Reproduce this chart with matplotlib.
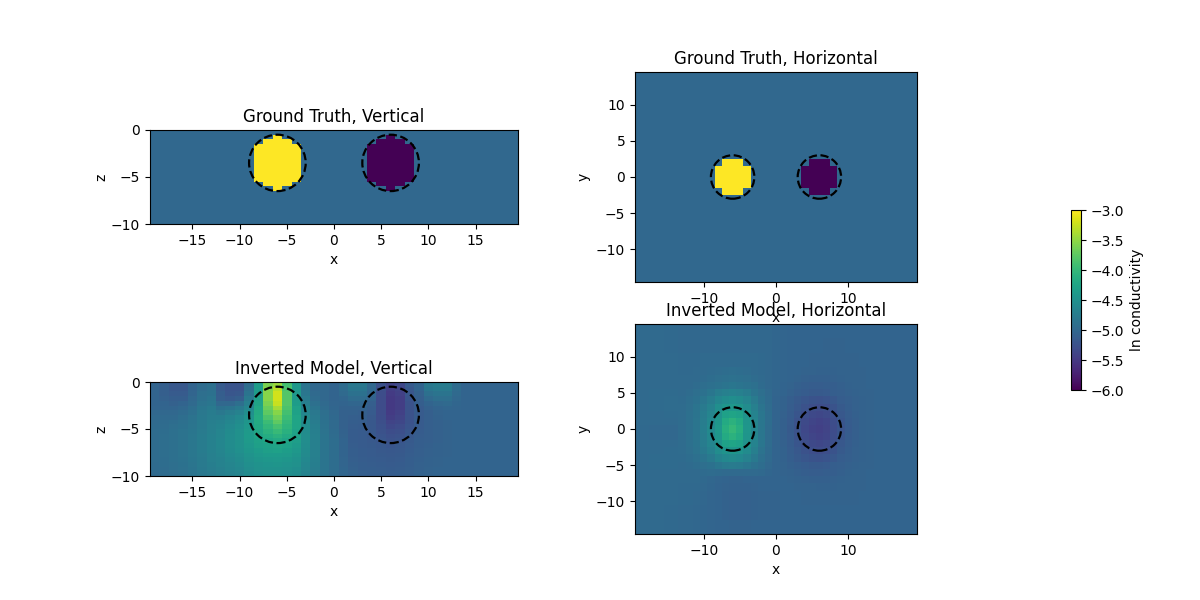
import matplotlib
matplotlib.use("Agg")
import numpy as np
import matplotlib.pyplot as plt
from matplotlib.patches import Circle
from matplotlib.cm import ScalarMappable
from matplotlib.colors import Normalize

VMIN, VMAX = -6.0, -3.0
CENTERS_X = [-6.0, 6.0]
DEPTH_CENTER = -3.5
RADIUS = 3.0

# grid edges
X_EDGES = list(np.arange(-19.5, 20.0, 1.0))
Z_EDGES = list(np.arange(0.0, -10.5, -0.5))
HX_EDGES = list(np.arange(-19.5, 20.0, 1.0))
HY_EDGES = list(np.arange(14.5, -15.0, -1.0))
CX_EDGES = [-19.5, -17.5, -15.5, -13.5] + list(np.arange(-12.5, 13.0, 1.0)) + [13.5, 15.5, 17.5, 19.5]
CY_EDGES = [14.5, 12.5, 10.5, 8.5] + list(np.arange(7.5, -8.0, -1.0)) + [-8.5, -10.5, -12.5, -14.5]

# ground truth: '.' background, 'Y' conductive, 'D' resistive
LEVELS = {".": -5.0, "Y": -3.0, "D": -6.0}
TRUTH_VERTICAL = [
    "." * 39,
    "." * 13 + "Y" + "." * 11 + "D" + "." * 13,
    "." * 12 + "YYY" + "." * 9 + "DDD" + "." * 12,
    "." * 11 + "YYYYY" + "." * 7 + "DDDDD" + "." * 11,
    "." * 11 + "YYYYY" + "." * 7 + "DDDDD" + "." * 11,
    "." * 11 + "YYYYY" + "." * 7 + "DDDDD" + "." * 11,
    "." * 11 + "YYYYY" + "." * 7 + "DDDDD" + "." * 11,
    "." * 11 + "YYYYY" + "." * 7 + "DDDDD" + "." * 11,
    "." * 11 + "YYYYY" + "." * 7 + "DDDDD" + "." * 11,
    "." * 11 + "YYYYY" + "." * 7 + "DDDDD" + "." * 11,
    "." * 11 + "YYYYY" + "." * 7 + "DDDDD" + "." * 11,
    "." * 12 + "YYY" + "." * 9 + "DDD" + "." * 12,
    "." * 13 + "Y" + "." * 11 + "D" + "." * 13,
] + ["." * 39] * 7
TRUTH_HORIZONTAL = ["." * 39] * 12 + [
    "." * 12 + "YYY" + "." * 9 + "DDD" + "." * 12 + "...",
    "." * 11 + "YYYYY" + "." * 7 + "DDDDD" + "." * 11 + "...",
    "." * 11 + "YYYYY" + "." * 7 + "DDDDD" + "." * 11 + "...",
    "." * 11 + "YYYYY" + "." * 7 + "DDDDD" + "." * 11 + "...",
    "." * 12 + "YYY" + "." * 9 + "DDD" + "." * 12 + "...",
] + ["." * 39] * 12

INVERTED_VERTICAL = [
[-5.05,-5.10,-5.18,-5.18,-5.05,-4.95,-4.90,-5.15,-5.22,-5.22,-4.95,-4.35,-3.60,-3.45,-3.90,-4.40,-4.85,-5.00,-5.00,-5.05,-4.95,-4.80,-4.80,-5.00,-5.25,-5.40,-5.35,-5.15,-5.05,-4.80,-4.75,-4.75,-4.95,-5.05,-5.05,-5.05,-5.05,-5.05,-5.05],
[-5.05,-5.10,-5.18,-5.18,-5.05,-4.95,-4.90,-5.15,-5.22,-5.22,-4.92,-4.35,-3.55,-3.30,-3.85,-4.40,-4.85,-5.00,-5.00,-5.05,-4.95,-4.82,-4.82,-5.00,-5.28,-5.45,-5.40,-5.18,-5.05,-4.82,-4.78,-4.78,-4.95,-5.05,-5.05,-5.05,-5.05,-5.05,-5.05],
[-5.05,-5.10,-5.15,-5.15,-5.03,-4.92,-4.88,-5.12,-5.20,-5.18,-4.85,-4.35,-3.55,-3.20,-3.80,-4.40,-4.82,-4.98,-5.00,-5.05,-4.98,-4.88,-4.88,-5.02,-5.30,-5.48,-5.42,-5.20,-5.08,-4.90,-4.85,-4.85,-4.98,-5.05,-5.05,-5.05,-5.05,-5.05,-5.05],
[-5.05,-5.08,-5.12,-5.12,-5.00,-4.90,-4.85,-5.10,-5.15,-5.10,-4.78,-4.30,-3.55,-3.20,-3.80,-4.38,-4.78,-4.95,-5.00,-5.04,-5.02,-4.95,-4.95,-5.06,-5.32,-5.50,-5.45,-5.22,-5.10,-4.98,-4.92,-4.92,-5.00,-5.05,-5.05,-5.05,-5.05,-5.05,-5.05],
[-5.05,-5.05,-5.08,-5.05,-4.97,-4.86,-4.82,-5.00,-5.00,-4.92,-4.70,-4.25,-3.60,-3.25,-3.80,-4.35,-4.72,-4.90,-4.98,-5.03,-5.05,-5.02,-5.02,-5.10,-5.32,-5.50,-5.45,-5.25,-5.12,-5.05,-5.00,-4.98,-5.02,-5.05,-5.05,-5.05,-5.05,-5.05,-5.05],
[-5.03,-5.03,-5.03,-5.00,-4.93,-4.82,-4.78,-4.88,-4.85,-4.78,-4.62,-4.20,-3.68,-3.40,-3.85,-4.30,-4.66,-4.85,-4.95,-5.02,-5.07,-5.07,-5.07,-5.13,-5.32,-5.50,-5.45,-5.25,-5.15,-5.08,-5.04,-5.02,-5.03,-5.05,-5.05,-5.05,-5.05,-5.05,-5.05],
[-5.00,-5.00,-5.00,-4.96,-4.90,-4.80,-4.75,-4.80,-4.74,-4.67,-4.52,-4.18,-3.75,-3.55,-3.90,-4.28,-4.62,-4.80,-4.92,-5.00,-5.08,-5.08,-5.10,-5.15,-5.32,-5.48,-5.42,-5.25,-5.15,-5.10,-5.06,-5.04,-5.04,-5.05,-5.05,-5.05,-5.05,-5.05,-5.05],
[-4.98,-4.98,-4.97,-4.93,-4.86,-4.79,-4.74,-4.73,-4.66,-4.59,-4.45,-4.15,-3.85,-3.65,-3.95,-4.25,-4.58,-4.77,-4.90,-4.99,-5.08,-5.10,-5.12,-5.17,-5.30,-5.45,-5.40,-5.25,-5.15,-5.10,-5.07,-5.05,-5.05,-5.05,-5.05,-5.05,-5.05,-5.05,-5.05],
[-4.97,-4.96,-4.94,-4.90,-4.84,-4.78,-4.72,-4.69,-4.62,-4.55,-4.42,-4.18,-3.95,-3.75,-4.00,-4.25,-4.56,-4.75,-4.88,-4.98,-5.08,-5.12,-5.13,-5.18,-5.28,-5.40,-5.36,-5.24,-5.15,-5.10,-5.08,-5.06,-5.05,-5.05,-5.05,-5.05,-5.05,-5.05,-5.05],
[-4.96,-4.95,-4.92,-4.88,-4.83,-4.77,-4.71,-4.66,-4.59,-4.52,-4.40,-4.20,-4.02,-3.88,-4.05,-4.25,-4.55,-4.73,-4.87,-4.97,-5.08,-5.13,-5.14,-5.18,-5.26,-5.35,-5.32,-5.22,-5.15,-5.10,-5.08,-5.06,-5.05,-5.05,-5.05,-5.05,-5.05,-5.05,-5.05],
[-4.95,-4.94,-4.90,-4.86,-4.82,-4.76,-4.70,-4.64,-4.57,-4.50,-4.38,-4.22,-4.08,-3.98,-4.10,-4.27,-4.55,-4.72,-4.86,-4.96,-5.07,-5.14,-5.15,-5.18,-5.24,-5.30,-5.28,-5.20,-5.14,-5.10,-5.08,-5.06,-5.05,-5.05,-5.05,-5.05,-5.05,-5.05,-5.05],
[-4.95,-4.93,-4.90,-4.86,-4.81,-4.75,-4.69,-4.63,-4.55,-4.49,-4.37,-4.25,-4.15,-4.08,-4.18,-4.30,-4.54,-4.71,-4.85,-4.95,-5.06,-5.14,-5.15,-5.18,-5.22,-5.27,-5.25,-5.18,-5.13,-5.10,-5.08,-5.06,-5.05,-5.05,-5.05,-5.05,-5.05,-5.05,-5.05],
[-4.95,-4.93,-4.90,-4.86,-4.81,-4.75,-4.69,-4.62,-4.55,-4.49,-4.38,-4.28,-4.22,-4.18,-4.25,-4.33,-4.54,-4.70,-4.84,-4.94,-5.05,-5.14,-5.15,-5.17,-5.20,-5.24,-5.22,-5.16,-5.12,-5.10,-5.08,-5.06,-5.05,-5.05,-5.05,-5.05,-5.05,-5.05,-5.05],
[-4.95,-4.93,-4.90,-4.86,-4.81,-4.75,-4.69,-4.62,-4.55,-4.50,-4.40,-4.32,-4.28,-4.25,-4.30,-4.36,-4.55,-4.70,-4.84,-4.94,-5.05,-5.13,-5.15,-5.16,-5.18,-5.21,-5.19,-5.15,-5.11,-5.09,-5.07,-5.06,-5.05,-5.05,-5.05,-5.05,-5.05,-5.05,-5.05],
[-4.95,-4.93,-4.90,-4.86,-4.81,-4.75,-4.69,-4.63,-4.57,-4.51,-4.42,-4.36,-4.32,-4.30,-4.34,-4.40,-4.56,-4.70,-4.84,-4.94,-5.04,-5.12,-5.14,-5.15,-5.17,-5.19,-5.17,-5.14,-5.10,-5.08,-5.07,-5.06,-5.05,-5.05,-5.05,-5.05,-5.05,-5.05,-5.05],
[-4.95,-4.93,-4.90,-4.86,-4.81,-4.76,-4.70,-4.65,-4.59,-4.54,-4.46,-4.40,-4.37,-4.36,-4.38,-4.44,-4.58,-4.71,-4.84,-4.94,-5.04,-5.11,-5.14,-5.15,-5.16,-5.17,-5.16,-5.13,-5.10,-5.08,-5.07,-5.06,-5.05,-5.05,-5.05,-5.05,-5.05,-5.05,-5.05],
[-4.95,-4.94,-4.91,-4.87,-4.82,-4.77,-4.71,-4.67,-4.61,-4.57,-4.49,-4.44,-4.41,-4.40,-4.42,-4.48,-4.60,-4.72,-4.84,-4.94,-5.03,-5.10,-5.13,-5.14,-5.15,-5.16,-5.15,-5.12,-5.09,-5.07,-5.06,-5.05,-5.05,-5.05,-5.05,-5.05,-5.05,-5.05,-5.05],
[-4.96,-4.94,-4.92,-4.88,-4.83,-4.78,-4.73,-4.68,-4.63,-4.59,-4.52,-4.47,-4.45,-4.44,-4.46,-4.50,-4.62,-4.73,-4.85,-4.94,-5.03,-5.09,-5.12,-5.13,-5.14,-5.15,-5.14,-5.11,-5.08,-5.07,-5.06,-5.05,-5.05,-5.05,-5.05,-5.05,-5.05,-5.05,-5.05],
[-4.96,-4.95,-4.92,-4.89,-4.84,-4.79,-4.74,-4.70,-4.65,-4.61,-4.54,-4.50,-4.48,-4.47,-4.49,-4.53,-4.64,-4.74,-4.85,-4.94,-5.02,-5.08,-5.11,-5.12,-5.13,-5.14,-5.13,-5.10,-5.08,-5.06,-5.05,-5.05,-5.05,-5.05,-5.05,-5.05,-5.05,-5.05,-5.05],
[-4.97,-4.95,-4.93,-4.90,-4.85,-4.80,-4.76,-4.72,-4.67,-4.63,-4.56,-4.52,-4.50,-4.50,-4.52,-4.55,-4.66,-4.75,-4.86,-4.95,-5.02,-5.07,-5.10,-5.12,-5.12,-5.13,-5.12,-5.10,-5.07,-5.06,-5.05,-5.05,-5.05,-5.05,-5.05,-5.05,-5.05,-5.05,-5.05],
]

# columns: 3 coarse, 27 unit cells, 3 coarse; rows: 3 coarse, 16 unit cells, 3 coarse
INVERTED_HORIZONTAL = [
[-4.97,-4.98,-4.99]+[-5.00]*13+[-5.02,-5.03,-5.04,-5.04,-5.04,-5.05,-5.05,-5.05,-5.05,-5.05,-5.05,-5.05,-5.05,-5.05]+[-5.05,-5.05,-5.05],
[-4.97,-4.98,-4.99]+[-5.00]*13+[-5.02,-5.03,-5.04,-5.04,-5.05,-5.05,-5.05,-5.06,-5.06,-5.06,-5.05,-5.05,-5.05,-5.05]+[-5.05,-5.05,-5.05],
[-4.97,-4.98,-4.98]+[-4.99,-4.99,-4.99,-4.98,-4.98,-4.98,-4.97,-4.97,-4.97,-4.98,-4.98,-4.99,-5.00]+[-5.02,-5.03,-5.04,-5.05,-5.05,-5.06,-5.06,-5.06,-5.06,-5.06,-5.06,-5.06,-5.05,-5.05]+[-5.05,-5.05,-5.05],
[-4.97,-4.98,-4.98]+[-4.99,-4.99,-4.98,-4.97,-4.96,-4.95,-4.94,-4.93,-4.94,-4.95,-4.97,-4.99,-5.00]+[-5.02,-5.03,-5.04,-5.05,-5.06,-5.06,-5.07,-5.07,-5.07,-5.06,-5.06,-5.06,-5.06,-5.05]+[-5.05,-5.05,-5.05],
[-4.97,-4.97,-4.97]+[-4.98,-4.98,-4.97,-4.96,-4.94,-4.92,-4.90,-4.89,-4.90,-4.92,-4.95,-4.98,-5.00]+[-5.02,-5.03,-5.05,-5.06,-5.08,-5.09,-5.09,-5.09,-5.08,-5.07,-5.06,-5.06,-5.06,-5.05]+[-5.05,-5.05,-5.05],
[-4.97,-4.97,-4.97]+[-4.98,-4.97,-4.95,-4.93,-4.90,-4.87,-4.84,-4.82,-4.84,-4.87,-4.91,-4.96,-5.00]+[-5.02,-5.04,-5.06,-5.09,-5.11,-5.13,-5.13,-5.12,-5.11,-5.09,-5.07,-5.06,-5.06,-5.05]+[-5.05,-5.05,-5.05],
[-4.97,-4.96,-4.96]+[-4.97,-4.95,-4.92,-4.88,-4.82,-4.74,-4.70,-4.68,-4.70,-4.75,-4.84,-4.92,-4.98]+[-5.03,-5.05,-5.08,-5.11,-5.14,-5.16,-5.16,-5.15,-5.12,-5.10,-5.08,-5.07,-5.06,-5.06]+[-5.05,-5.05,-5.05],
[-4.97,-4.96,-4.95]+[-4.96,-4.93,-4.88,-4.82,-4.74,-4.62,-4.56,-4.53,-4.56,-4.64,-4.76,-4.88,-4.96]+[-5.04,-5.07,-5.11,-5.16,-5.20,-5.23,-5.24,-5.22,-5.18,-5.13,-5.10,-5.08,-5.07,-5.06]+[-5.05,-5.05,-5.05],
[-4.97,-4.96,-4.95]+[-4.95,-4.92,-4.85,-4.78,-4.68,-4.52,-4.44,-4.40,-4.44,-4.55,-4.70,-4.84,-4.95]+[-5.04,-5.07,-5.13,-5.19,-5.25,-5.29,-5.31,-5.29,-5.23,-5.16,-5.11,-5.08,-5.07,-5.06]+[-5.05,-5.05,-5.05],
[-4.98,-4.97,-4.96]+[-4.95,-4.90,-4.84,-4.75,-4.63,-4.46,-4.30,-4.25,-4.30,-4.48,-4.66,-4.82,-4.94]+[-5.04,-5.08,-5.14,-5.21,-5.29,-5.34,-5.36,-5.33,-5.27,-5.19,-5.13,-5.09,-5.07,-5.06]+[-5.05,-5.05,-5.05],
[-4.98,-4.98,-4.97]+[-4.95,-4.90,-4.83,-4.74,-4.60,-4.42,-4.18,-4.08,-4.18,-4.44,-4.64,-4.82,-4.94]+[-5.05,-5.09,-5.15,-5.24,-5.33,-5.39,-5.41,-5.38,-5.30,-5.21,-5.14,-5.10,-5.07,-5.06]+[-5.05,-5.05,-5.05],
[-4.99,-5.00,-5.00]+[-4.95,-4.90,-4.83,-4.73,-4.58,-4.40,-4.12,-4.00,-4.12,-4.42,-4.63,-4.82,-4.95]+[-5.05,-5.09,-5.16,-5.25,-5.35,-5.41,-5.43,-5.40,-5.32,-5.22,-5.15,-5.10,-5.07,-5.06]+[-5.05,-5.05,-5.05],
[-4.99,-5.00,-5.00]+[-4.95,-4.90,-4.83,-4.74,-4.60,-4.42,-4.18,-4.08,-4.18,-4.44,-4.64,-4.82,-4.95]+[-5.05,-5.09,-5.15,-5.24,-5.33,-5.39,-5.41,-5.38,-5.30,-5.21,-5.14,-5.10,-5.07,-5.06]+[-5.05,-5.05,-5.05],
[-4.98,-4.98,-4.97]+[-4.95,-4.90,-4.84,-4.75,-4.63,-4.46,-4.30,-4.25,-4.30,-4.48,-4.66,-4.82,-4.95]+[-5.05,-5.08,-5.14,-5.21,-5.29,-5.34,-5.36,-5.33,-5.27,-5.19,-5.13,-5.09,-5.07,-5.06]+[-5.05,-5.05,-5.05],
[-4.98,-4.97,-4.96]+[-4.95,-4.92,-4.86,-4.79,-4.69,-4.54,-4.46,-4.42,-4.46,-4.57,-4.72,-4.86,-4.96]+[-5.05,-5.07,-5.13,-5.19,-5.25,-5.29,-5.31,-5.29,-5.23,-5.16,-5.11,-5.08,-5.07,-5.06]+[-5.05,-5.05,-5.05],
[-4.97,-4.96,-4.96]+[-4.96,-4.94,-4.90,-4.85,-4.78,-4.66,-4.60,-4.58,-4.60,-4.67,-4.79,-4.90,-4.98]+[-5.05,-5.07,-5.11,-5.16,-5.20,-5.23,-5.24,-5.22,-5.18,-5.13,-5.10,-5.08,-5.07,-5.06]+[-5.05,-5.05,-5.05],
[-4.97,-4.96,-4.96]+[-4.97,-4.96,-4.94,-4.92,-4.88,-4.82,-4.78,-4.76,-4.78,-4.82,-4.88,-4.94,-5.00]+[-5.05,-5.06,-5.09,-5.11,-5.14,-5.16,-5.16,-5.15,-5.12,-5.10,-5.08,-5.07,-5.06,-5.06]+[-5.05,-5.05,-5.05],
[-4.97,-4.97,-4.97]+[-4.98,-4.97,-4.97,-4.96,-4.95,-4.96,-4.98,-4.98,-4.98,-4.97,-4.97,-4.99,-5.02]+[-5.05,-5.06,-5.07,-5.09,-5.11,-5.13,-5.13,-5.12,-5.11,-5.09,-5.07,-5.06,-5.06,-5.05]+[-5.05,-5.05,-5.05],
[-4.97,-4.97,-4.97]+[-4.98,-4.98,-4.98,-4.99,-5.01,-5.03,-5.05,-5.06,-5.06,-5.05,-5.04,-5.04,-5.05]+[-5.05,-5.05,-5.06,-5.07,-5.08,-5.09,-5.09,-5.09,-5.08,-5.07,-5.06,-5.06,-5.06,-5.05]+[-5.05,-5.05,-5.05],
[-4.97,-4.98,-4.98]+[-4.99,-4.99,-4.99,-5.00,-5.02,-5.04,-5.06,-5.07,-5.07,-5.07,-5.06,-5.05,-5.05]+[-5.05,-5.05,-5.05,-5.06,-5.06,-5.06,-5.07,-5.07,-5.07,-5.06,-5.06,-5.06,-5.06,-5.05]+[-5.05,-5.05,-5.05],
[-4.97,-4.98,-4.98]+[-4.99,-4.99,-5.00,-5.01,-5.03,-5.05,-5.07,-5.08,-5.08,-5.08,-5.07,-5.06,-5.06]+[-5.06,-5.05,-5.05,-5.05,-5.06,-5.06,-5.06,-5.06,-5.06,-5.06,-5.06,-5.06,-5.05,-5.05]+[-5.05,-5.05,-5.05],
[-4.97,-4.98,-4.99]+[-5.00,-5.00,-5.01,-5.02,-5.03,-5.05,-5.07,-5.08,-5.08,-5.08,-5.07,-5.06,-5.06]+[-5.06,-5.05,-5.05,-5.05,-5.05,-5.05,-5.05,-5.05,-5.05,-5.05,-5.05,-5.05,-5.05,-5.05]+[-5.05,-5.05,-5.05],
[-4.97,-4.98,-4.99]+[-5.00,-5.00,-5.01,-5.02,-5.03,-5.04,-5.05,-5.06,-5.06,-5.06,-5.05,-5.05,-5.05]+[-5.05,-5.05,-5.05,-5.05,-5.05,-5.05,-5.05,-5.05,-5.05,-5.05,-5.05,-5.05,-5.05,-5.05]+[-5.05,-5.05,-5.05],
]

truth_v = np.array([[LEVELS[c] for c in r] for r in TRUTH_VERTICAL])
truth_h = np.array([[LEVELS[c] for c in r[:39]] for r in TRUTH_HORIZONTAL])
inv_v = np.array(INVERTED_VERTICAL)
inv_h = np.array(INVERTED_HORIZONTAL)

W, H = 1200.0, 600.0
def box(l, r, t, b):
    return [l / W, 1 - b / H, (r - l) / W, (b - t) / H]

fig = plt.figure(figsize=(12, 6), dpi=100)
ax1 = fig.add_axes(box(150, 518, 130, 224))
ax2 = fig.add_axes(box(635, 917, 72, 282))
ax3 = fig.add_axes(box(150, 518, 382, 476))
ax4 = fig.add_axes(box(635, 917, 324, 534))

kw = dict(cmap="viridis", vmin=VMIN, vmax=VMAX, shading="flat", rasterized=True)

def vertical(ax, data, title):
    ax.pcolormesh(X_EDGES, Z_EDGES, data, **kw)
    for cx in CENTERS_X:
        ax.add_patch(Circle((cx, DEPTH_CENTER), RADIUS, fill=False, ec="k", ls="--", lw=1.6))
    ax.set_xlim(-19.5, 19.5)
    ax.set_ylim(-10, 0)
    ax.set_xticks([-15, -10, -5, 0, 5, 10, 15])
    ax.set_yticks([-10, -5, 0])
    ax.set_xlabel("x")
    ax.set_ylabel("z", labelpad=2)
    ax.set_title(title, fontsize=12)

def horizontal(ax, xe, ye, data, title):
    ax.pcolormesh(xe, ye, data, **kw)
    for cx in CENTERS_X:
        ax.add_patch(Circle((cx, 0), RADIUS, fill=False, ec="k", ls="--", lw=1.6))
    ax.set_xlim(-19.5, 19.5)
    ax.set_ylim(-14.5, 14.5)
    ax.set_xticks([-10, 0, 10])
    ax.set_yticks([-10, -5, 0, 5, 10])
    ax.set_xlabel("x")
    ax.set_ylabel("y")
    ax.set_title(title, fontsize=12)

vertical(ax1, truth_v, "Ground Truth, Vertical")
vertical(ax3, inv_v, "Inverted Model, Vertical")
horizontal(ax2, HX_EDGES, HY_EDGES, truth_h, "Ground Truth, Horizontal")
horizontal(ax4, CX_EDGES, CY_EDGES, inv_h, "Inverted Model, Horizontal")

cax = fig.add_axes(box(1071, 1081, 210, 390))
sm = ScalarMappable(norm=Normalize(VMIN, VMAX), cmap="viridis")
cb = fig.colorbar(sm, cax=cax)
cb.set_ticks([-6.0, -5.5, -5.0, -4.5, -4.0, -3.5, -3.0])
cb.set_label("ln conductivity")

fig.savefig("out.png", dpi=100)
